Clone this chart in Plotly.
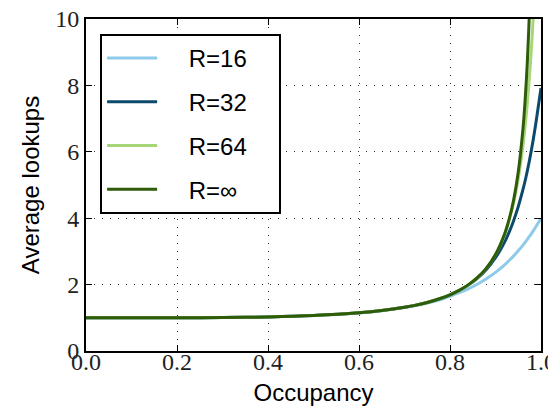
import plotly.graph_objects as go

occupancy = [0.0, 0.1, 0.2, 0.3, 0.4, 0.5, 0.6, 0.65, 0.7, 0.72, 0.75, 0.78, 0.8, 0.82,
             0.84, 0.86, 0.88, 0.9, 0.92, 0.93, 0.94, 0.95, 0.96, 0.965, 0.97, 0.975,
             0.98, 0.985, 0.99, 1.0]

r16 = [1.0, 1.0, 1.002, 1.008, 1.026, 1.066, 1.147, 1.213, 1.307, 1.355, 1.443, 1.553,
       1.646, 1.756, 1.869, 2.010, 2.175, 2.369, 2.597, 2.727, 2.866, 3.018, 3.183,
       3.271, 3.363, 3.458, 3.558, 3.662, 3.77, 4.0]
r32 = [1.0, 1.0, 1.002, 1.008, 1.026, 1.067, 1.149, 1.217, 1.316, 1.367, 1.462, 1.586,
       1.693, 1.821, 1.984, 2.190, 2.456, 2.808, 3.281, 3.580, 3.931, 4.347, 4.843,
       5.12, 5.428, 5.77, 6.135, 6.54, 6.98, 7.92]
r64 = [1.0, 1.0, 1.002, 1.008, 1.026, 1.067, 1.149, 1.217, 1.316, 1.367, 1.463, 1.588,
       1.694, 1.825, 1.991, 2.207, 2.497, 2.904, 3.509, 3.94, 4.473, 5.189, 6.153,
       6.760, 7.477, 8.33, 9.35, 10.57, 11.9, 13.5]
rinf = [1.0, 1.0, 1.002, 1.008, 1.026, 1.067, 1.149, 1.217, 1.316, 1.367, 1.463, 1.588,
        1.694, 1.825, 1.992, 2.208, 2.498, 2.908, 3.526, 3.970, 4.560, 5.391, 6.640,
        7.53, 8.718, 10.38, 12.89, 17.05, 25.4, 40.0]

series = [
    ("R=16", r16, "#8ecbea"),
    ("R=32", r32, "#0b4a6c"),
    ("R=64", r64, "#a6d678"),
    ("R=\u221e", rinf, "#2e5c08"),
]

x_ticks = [0.0, 0.2, 0.4, 0.6, 0.8, 1.0]
x_tick_labels = ["0.0", "0.2", "0.4", "0.6", "0.8", "1.0"]
y_ticks = [0, 2, 4, 6, 8, 10]
y_tick_labels = ["0", "2", "4", "6", "8", "10"]

NB = "\u00a0"
fig = go.Figure()
for i, (name, vals, color) in enumerate(series):
    fig.add_trace(go.Scatter(
        x=occupancy, y=vals, mode="lines", name=NB * 4 + name + NB * 4,
        line=dict(color=color, width=3, shape="spline", smoothing=0.8),
        legendgroup=f"g{i}",
    ))

serif = "Liberation Serif"
sans = "Liberation Sans"
grid_dash = "1px,7px"

fig.update_layout(
    width=548, height=400,
    margin=dict(l=78, r=15, t=11, b=57, autoexpand=False),
    paper_bgcolor="white", plot_bgcolor="white",
    showlegend=True,
    legend=dict(
        x=0.031, y=0.955, xanchor="left", yanchor="top",
        bgcolor="white", bordercolor="black", borderwidth=2,
        font=dict(family=sans, size=24, color="black"),
        tracegroupgap=9.5, itemwidth=50,
    ),
    xaxis=dict(
        range=[0, 1], tickvals=x_ticks, ticktext=x_tick_labels,
        showgrid=True, gridcolor="#333", griddash=grid_dash, gridwidth=1,
        showline=True, linecolor="black", linewidth=2, mirror="ticks",
        ticks="inside", ticklen=6, tickcolor="black", tickwidth=1,
        tickfont=dict(family=serif, size=24, color="#222"),
        ticklabelstandoff=-12, ticklabeloverflow="allow",
        title=dict(text="Occupancy", font=dict(family=sans, size=24, color="black"), standoff=10),
        zeroline=False, automargin=False,
    ),
    yaxis=dict(
        range=[0, 10], tickvals=y_ticks, ticktext=y_tick_labels,
        showgrid=True, gridcolor="#333", griddash=grid_dash, gridwidth=1,
        showline=True, linecolor="black", linewidth=2, mirror="ticks",
        ticks="inside", ticklen=6, tickcolor="black", tickwidth=1,
        tickfont=dict(family=serif, size=24, color="#222"),
        ticklabeloverflow="allow",
        title=dict(text="Average lookups", font=dict(family=sans, size=24, color="black"), standoff=9),
        zeroline=False, automargin=False,
    ),
)

fig.write_html("out.html")
